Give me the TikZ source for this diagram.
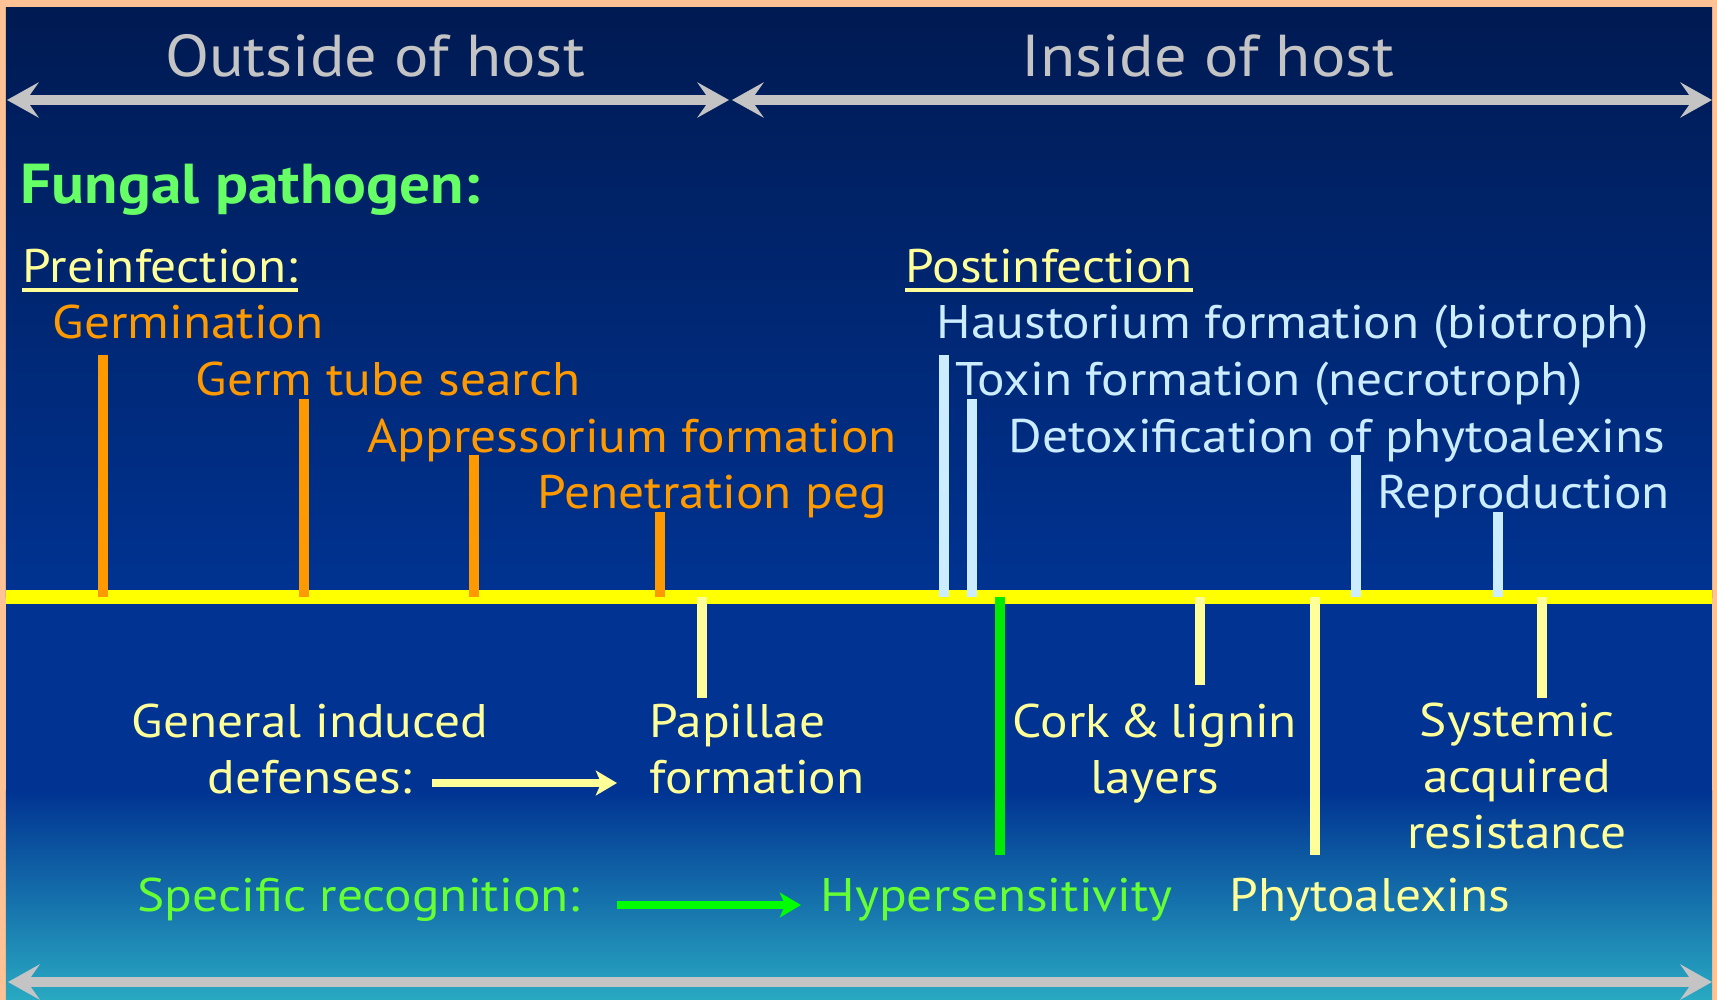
\documentclass[tikz,border=0pt]{standalone}
\usepackage{fontspec}
\setmainfont[FakeStretch=1.09]{PT Sans}
\usetikzlibrary{arrows.meta,positioning}

\definecolor{peach}{RGB}{255,194,148}
\definecolor{navytop}{RGB}{0,26,82}
\definecolor{navymid}{RGB}{0,51,146}
\definecolor{tealbot}{RGB}{41,169,194}
\definecolor{pathorange}{RGB}{255,153,0}
\definecolor{hostblue}{RGB}{204,236,255}
\definecolor{cream}{RGB}{255,255,153}
\definecolor{fungusgreen}{RGB}{102,255,102}
\definecolor{limegreen}{RGB}{102,255,51}
\definecolor{hrgreen}{RGB}{0,235,0}
\definecolor{spangray}{RGB}{196,196,196}
\definecolor{axisyellow}{RGB}{255,255,0}

\begin{document}
\begin{tikzpicture}[x=0.01cm, y=-0.01cm,
  txt/.style={inner sep=0pt, font=\fontsize{13.4}{15.9}\selectfont},
  lbl/.style={txt, anchor=base west},
  ctr/.style={txt, anchor=base, align=center},
  pathlbl/.style={lbl, text=pathorange},
  hostlbl/.style={lbl, text=hostblue},
  title/.style={txt, anchor=base, text=spangray, font=\fontsize{16.8}{20}\selectfont},
  tickln/.style={line width=2.6pt},
  spanarr/.style={{Stealth[length=9pt,width=10pt,inset=3.5pt]}-{Stealth[length=9pt,width=10pt,inset=3.5pt]},
    line width=2.6pt, color=spangray},
  arr/.style={-{Stealth[length=6pt,width=7pt,inset=1.5pt]}, line width=2pt}
]
\useasboundingbox (0,0) rectangle (1717,1000);

% Background
\fill[peach] (0,0) rectangle (1717,1000);
\shade[top color=navytop, bottom color=navymid] (6,7) rectangle (1712,597);
\fill[navymid] (6,597) rectangle (1712,790);
\shade[top color=navymid, bottom color=tealbot] (6,790) rectangle (1712,1000);

% Outside / inside spans
\node[title] (outside) at (375,77) {Outside of host};
\node[title] (inside) at (1208,77) {Inside of host};
\coordinate (spanl) at (7,100);
\coordinate (spanm1) at (729,100);
\coordinate (spanm2) at (732,100);
\coordinate (spanr) at (1712,100);
\draw[spanarr] (spanl) -- (spanm1);
\draw[spanarr] (spanm2) -- (spanr);

% Pathogen
\node[lbl, text=fungusgreen, font=\fontsize{16}{19}\selectfont\bfseries] (fungal) at (20,203) {Fungal pathogen:};

\node[lbl, text=cream] (preinf) at (22,282) {Preinfection:};
\draw[cream, line width=1.2pt] ([yshift=-2.3pt]preinf.base west) -- ([yshift=-2.3pt]preinf.base east);
\node[pathlbl] (germ) at (52,338) {Germination};
\node[pathlbl] (tube) at (195,395) {Germ tube search};
\node[pathlbl] (appr) at (367,452) {Appressorium formation};
\node[pathlbl] (peg) at (537,508) {Penetration peg};

\node[lbl, text=cream] (postinf) at (905,282) {Postinfection};
\draw[cream, line width=1.2pt] ([yshift=-2.3pt]postinf.base west) -- ([yshift=-2.3pt]postinf.base east);
\node[hostlbl] (haus) at (936,338) {Haustorium formation (biotroph)};
\node[hostlbl] (toxin) at (955,395) {Toxin formation (necrotroph)};
\node[hostlbl] (detox) at (1008,452) {Detoxification of phytoalexins};
\node[hostlbl] (repro) at (1377,508) {Reproduction};

% Time axis
\coordinate (axl) at (6,597);
\coordinate (axr) at (1712,597);
\draw[axisyellow, line width=3.7pt] (axl) -- (axr);

\coordinate (germtop) at (103,355);
\coordinate (tubetop) at (304,399);
\coordinate (apprtop) at (474,455);
\coordinate (pegtop) at (660,512);
\foreach \t in {germtop,tubetop,apprtop,pegtop}
  \draw[tickln, pathorange] (\t) -- (\t |- axl);

\coordinate (haustop) at (944,355);
\coordinate (toxintop) at (972,399);
\coordinate (detoxtop) at (1356,455);
\coordinate (reprotop) at (1498,512);
\foreach \t in {haustop,toxintop,detoxtop,reprotop}
  \draw[tickln, hostblue] (\t) -- (\t |- axl);

% Host defenses
\coordinate (papilbot) at (702,698);
\coordinate (hyperbot) at (1000,855);
\coordinate (corkbot) at (1200,685);
\coordinate (phytobot) at (1315,855);
\coordinate (sarbot) at (1542,698);
\foreach \t in {papilbot,corkbot,phytobot,sarbot}
  \draw[tickln, cream] (\t |- axl) -- (\t);
\draw[tickln, hrgreen] (hyperbot |- axl) -- (hyperbot);

% (base of a multi-line node = its last line)
\node[ctr, text=cream] (general) at (310,793) {General induced\\defenses:};
\node[lbl, text=cream, align=left] (papil) at (649,793) {Papillae\\formation};
\node[ctr, text=cream] (cork) at (1155,793) {Cork\hspace{0.2em}\&\hspace{0.2em}lignin\\layers};
\node[ctr, text=cream] (sar) at (1517,848) {Systemic\\acquired\\resistance};

\coordinate (genarrs) at (432,783);
\coordinate (genarre) at (617,783);
\draw[arr, cream] (genarrs) -- (genarre);

\node[lbl, text=limegreen] (spec) at (137,911) {Specific recognition:};
\node[lbl, text=limegreen] (hyper) at (820,911) {Hypersensitivity};
\node[lbl, text=cream] (phyto) at (1229,911) {Phytoalexins};
\coordinate (specarrs) at (617,905);
\coordinate (specarre) at (801,905);
\draw[arr, green] (specarrs) -- (specarre);

% Bottom span
\coordinate (botl) at (8,982);
\coordinate (botr) at (1712,982);
\draw[spanarr] (botl) -- (botr);
\end{tikzpicture}
\end{document}
